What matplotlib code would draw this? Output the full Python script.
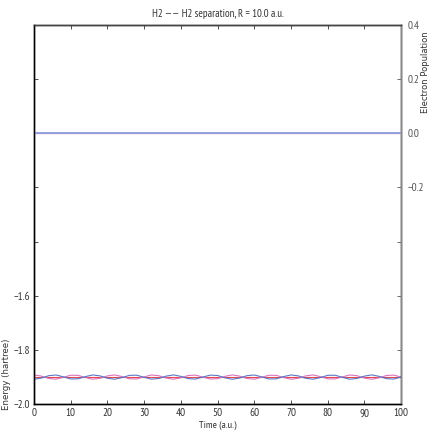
import numpy as np
import matplotlib.pyplot as plt
from matplotlib import font_manager as fm

# pick a narrow sans face if one is installed
installed = {f.name for f in fm.fontManager.ttflist}
narrow = 'Liberation Sans'
for cand in ['Myriad Pro', 'PT Sans Narrow', 'Roboto Condensed', 'Open Sans Condensed',
             'Archivo Narrow', 'Liberation Sans Narrow', 'Asap Condensed']:
    if cand in installed:
        narrow = cand
        break
plt.rcParams['font.family'] = [narrow, 'DejaVu Sans']

# time grid (a.u.)
time = [0, 2, 4, 6, 8, 10, 12, 14, 16, 18, 20, 22, 24, 26, 28, 30, 32, 34, 36, 38,
        40, 42, 44, 46, 48, 50, 52, 54, 56, 58, 60, 62, 64, 66, 68, 70, 72, 74, 76, 78,
        80, 82, 84, 86, 88, 90, 92, 94, 96, 98, 100]

# energies of the two fragments (hartree)
e_blue = [-1.9080, -1.9036, -1.8949, -1.8923, -1.8991, -1.9069, -1.9064, -1.8982,
          -1.8921, -1.8956, -1.9044, -1.9079, -1.9018, -1.8936, -1.8931, -1.9009,
          -1.9077, -1.9051, -1.8964, -1.8920, -1.8973, -1.9058, -1.9073, -1.9000,
          -1.8927, -1.8942, -1.9027,
          -1.9080, -1.9036, -1.8949, -1.8923, -1.8991, -1.9069, -1.9064, -1.8982,
          -1.8921, -1.8956, -1.9044, -1.9079, -1.9018, -1.8936, -1.8931, -1.9009,
          -1.9077, -1.9051, -1.8964, -1.8920, -1.8973, -1.9058, -1.9073, -1.9000]
e_pink = [-1.8920, -1.8964, -1.9051, -1.9077, -1.9009, -1.8931, -1.8936, -1.9018,
          -1.9079, -1.9044, -1.8956, -1.8921, -1.8982, -1.9064, -1.9069, -1.8991,
          -1.8923, -1.8949, -1.9036, -1.9080, -1.9027, -1.8942, -1.8927, -1.9000,
          -1.9073, -1.9058, -1.8973,
          -1.8920, -1.8964, -1.9051, -1.9077, -1.9009, -1.8931, -1.8936, -1.9018,
          -1.9079, -1.9044, -1.8956, -1.8921, -1.8982, -1.9064, -1.9069, -1.8991,
          -1.8923, -1.8949, -1.9036, -1.9080, -1.9027, -1.8942, -1.8927, -1.9000]
e_total = [-1.9] * len(time)

# electron populations (right axis)
pop_time = [0, 100]
pop_blue = [0.0, 0.0]
pop_pink = [0.002, 0.002]

fig = plt.figure(figsize=(4.36, 4.36), dpi=100)
ax = fig.add_axes([0.078, 0.073, 0.842, 0.870])
ax2 = ax.twinx()

ax.plot(time, e_total, color='#e8474f', lw=0.8)
ax.plot(time, e_pink, color='#d973b8', lw=0.8)
ax.plot(time, e_blue, color='#5a78c8', lw=0.8)

ax2.plot(pop_time, pop_pink, color='#e3a8c4', lw=1.0)
ax2.plot(pop_time, pop_blue, color='#8c9ee0', lw=1.3)

ax.set_xlim(0, 100)
ax.set_ylim(-2.0, -0.6)
ax2.set_ylim(-1.0, 0.4)

ax.set_xticks(range(0, 101, 10))
e_ticks = np.round(np.arange(-2.0, -0.59, 0.2), 1)
ax.set_yticks(e_ticks)
ax.set_yticklabels(['\u22122.0', '\u22121.8', '\u22121.6'] + [''] * (len(e_ticks) - 3))
p_ticks = np.round(np.arange(-1.0, 0.41, 0.2), 1)
ax2.set_yticks(p_ticks)
ax2.set_yticklabels([''] * (len(p_ticks) - 4) + ['\u22120.2', '0.0', '0.2', '0.4'])

ax.tick_params(axis='both', direction='in', length=3, labelsize=8, colors='#333333',
               top=True, width=0.6, pad=3)
ax2.tick_params(axis='y', direction='in', length=3, labelsize=8, colors='#555555',
                width=0.6, pad=5)

for s in ['left', 'bottom']:
    ax.spines[s].set_color('#222222')
ax2.spines['right'].set_color('#888888')
ax2.spines['top'].set_color('#444444')
for a in (ax, ax2):
    for s in a.spines.values():
        s.set_linewidth(1.0)

ax.set_xlabel('Time (a.u.)', fontsize=7.5, labelpad=2, color='#333333')
ax.set_ylabel('Energy (hartree)', fontsize=6.2, family='DejaVu Sans', color='#333333')
ax.yaxis.set_label_coords(-0.062, 0.08)
ax2.set_ylabel('Electron Population', fontsize=6.0, family='DejaVu Sans', color='#333333')
ax2.yaxis.set_label_coords(1.055, 0.875)

fig.text(0.5, 0.969, 'H2 \u2014\u2014 H2 separation, R = 10.0 a.u.', ha='center',
         va='center', fontsize=7.8, color='#333333')

fig.savefig('out.png', dpi=100)
